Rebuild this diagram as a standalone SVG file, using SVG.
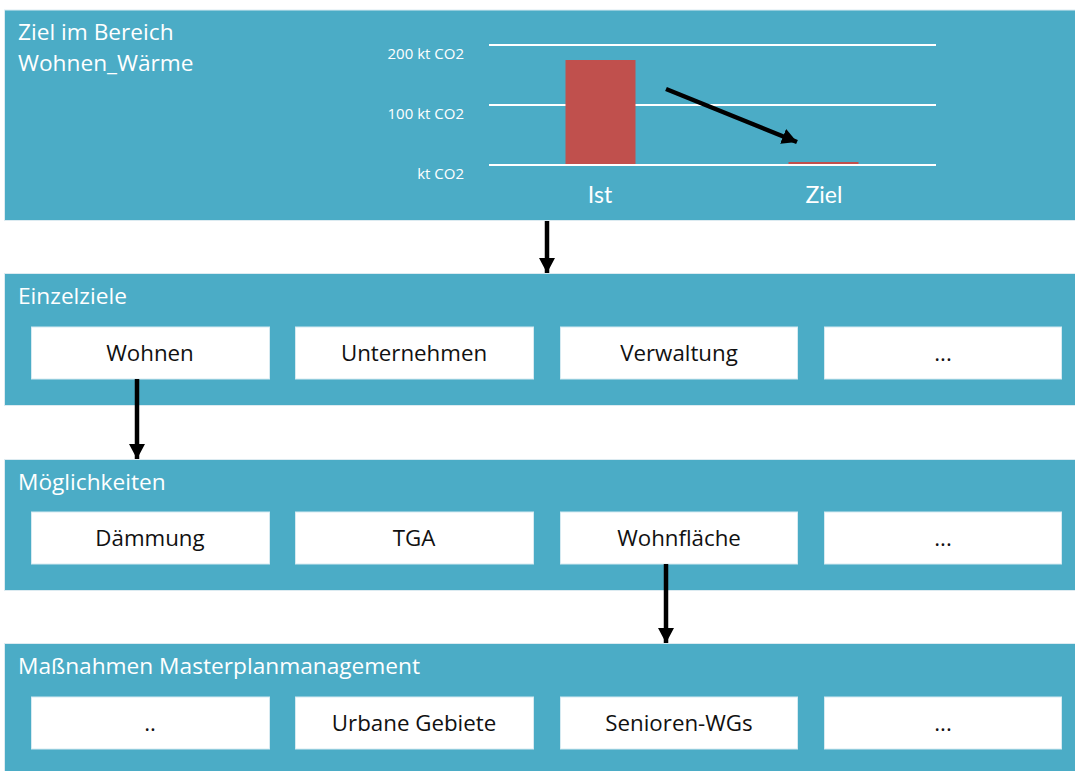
<svg xmlns="http://www.w3.org/2000/svg" width="1075" height="771" viewBox="0 0 1075 771">
<style>
.panel{fill:#4BACC6;stroke:#DCEBF1;stroke-width:1}
.box{fill:#FFFFFF;stroke:#D6EAF1;stroke-width:1}
.head{font-family:"Open Sans","Noto Sans",sans-serif;font-size:22.7px;fill:#FFFFFF}
.lbl{font-family:"Open Sans","Noto Sans",sans-serif;font-size:22.3px;fill:#111111;text-anchor:middle}
.ax{font-family:"Open Sans","Noto Sans",sans-serif;font-size:15px;fill:#FFFFFF;text-anchor:end}
.cat{font-family:"Lato","Noto Sans",sans-serif;font-size:23px;fill:#FFFFFF;text-anchor:middle}
.grid{stroke:#FFFFFF;stroke-width:2}
.conn{stroke:#000000;stroke-width:4.5;fill:none}
</style>
<defs>
<marker id="ah" markerUnits="userSpaceOnUse" markerWidth="16" markerHeight="16" refX="15" refY="8" orient="auto">
<path d="M0,0 L15,8 L0,16 Z" fill="#000000"/>
</marker>
</defs>

<g id="ziel">
<rect class="panel" x="4.5" y="10" width="1075" height="210.5"/>
<text class="head" x="18" y="40">Ziel im Bereich</text>
<text class="head" x="18" y="71">Wohnen_Wärme</text>
<line class="grid" x1="489" y1="45" x2="936" y2="45"/>
<line class="grid" x1="489" y1="105" x2="936" y2="105"/>
<line class="grid" x1="489" y1="165" x2="936" y2="165"/>
<text class="ax" x="464" y="59">200 kt CO2</text>
<text class="ax" x="464" y="119">100 kt CO2</text>
<text class="ax" x="464" y="179">kt CO2</text>
<rect x="565.5" y="60" width="70" height="104" fill="#C0504D"/>
<rect x="788.5" y="162" width="70" height="2" fill="#C0504D"/>
<text class="cat" x="600" y="203">Ist</text>
<text class="cat" x="824" y="203">Ziel</text>
<line class="conn" x1="666" y1="89" x2="797" y2="142" marker-end="url(#ah)"/>
</g>

<g id="einzelziele">
<rect class="panel" x="4.5" y="273.5" width="1075" height="132"/>
<text class="head" x="18" y="304">Einzelziele</text>
<rect class="box" x="31.5" y="327" width="238" height="52"/>
<rect class="box" x="295.5" y="327" width="238" height="52"/>
<rect class="box" x="560.5" y="327" width="237" height="52"/>
<rect class="box" x="824.5" y="327" width="237" height="52"/>
<text class="lbl" x="150" y="361">Wohnen</text>
<text class="lbl" x="414" y="361">Unternehmen</text>
<text class="lbl" x="679" y="361">Verwaltung</text>
<text class="lbl" x="943" y="361">...</text>
</g>

<g id="moeglichkeiten">
<rect class="panel" x="4.5" y="459.5" width="1075" height="131"/>
<text class="head" x="18" y="490">Möglichkeiten</text>
<rect class="box" x="31.5" y="512" width="238" height="52"/>
<rect class="box" x="295.5" y="512" width="238" height="52"/>
<rect class="box" x="560.5" y="512" width="237" height="52"/>
<rect class="box" x="824.5" y="512" width="237" height="52"/>
<text class="lbl" x="150" y="546">Dämmung</text>
<text class="lbl" x="414" y="546">TGA</text>
<text class="lbl" x="679" y="546">Wohnfläche</text>
<text class="lbl" x="943" y="546">...</text>
</g>

<g id="massnahmen">
<rect class="panel" x="4.5" y="643.5" width="1075" height="140"/>
<text class="head" x="18" y="674">Maßnahmen Masterplanmanagement</text>
<rect class="box" x="31.5" y="697" width="238" height="52"/>
<rect class="box" x="295.5" y="697" width="238" height="52"/>
<rect class="box" x="560.5" y="697" width="237" height="52"/>
<rect class="box" x="824.5" y="697" width="237" height="52"/>
<text class="lbl" x="150" y="731">..</text>
<text class="lbl" x="414" y="731">Urbane Gebiete</text>
<text class="lbl" x="679" y="731">Senioren-WGs</text>
<text class="lbl" x="943" y="731">...</text>
</g>

<g id="connectors">
<line class="conn" x1="547" y1="221" x2="547" y2="273" marker-end="url(#ah)"/>
<line class="conn" x1="137" y1="379" x2="137" y2="459" marker-end="url(#ah)"/>
<line class="conn" x1="666" y1="564" x2="666" y2="643" marker-end="url(#ah)"/>
</g>
</svg>
